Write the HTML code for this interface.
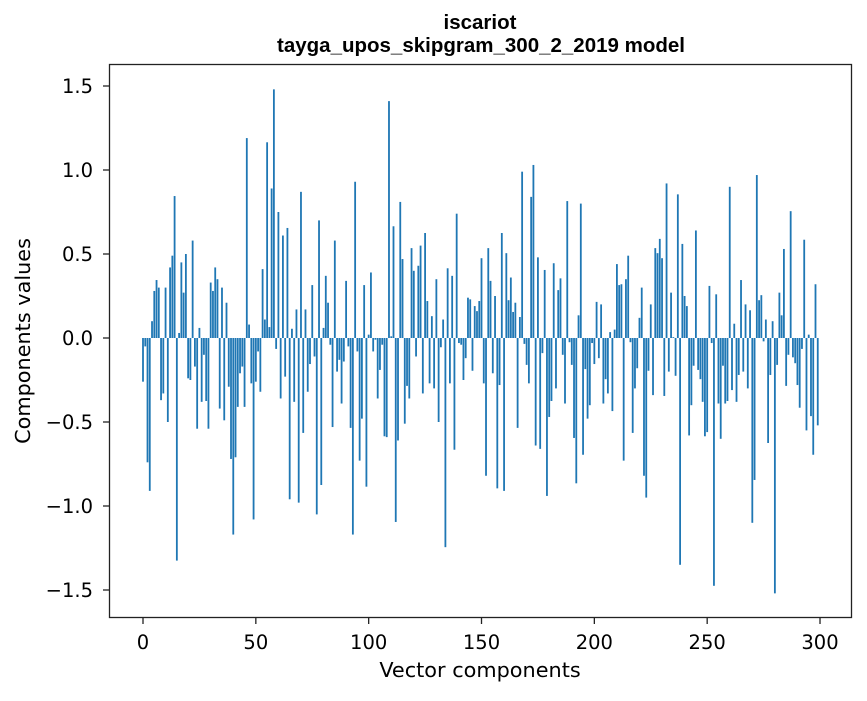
<!DOCTYPE html>
<html><head><meta charset="utf-8"><style>
body{margin:0;background:#fff;}
svg text{font-family:"DejaVu Sans","Liberation Sans",sans-serif;fill:#000;}
</style></head><body>
<svg id="chart" width="867" height="696" xmlns="http://www.w3.org/2000/svg">
<rect width="867" height="696" fill="#fff"/>
<text x="480" y="29" text-anchor="middle" font-size="20.5" font-weight="bold" style="font-family:'Liberation Sans',sans-serif">iscariot</text>
<text x="481" y="52" text-anchor="middle" font-size="20.5" font-weight="bold" style="font-family:'Liberation Sans',sans-serif">tayga_upos_skipgram_300_2_2019 model</text>
<g id="bars"></g>
<rect x="109.5" y="64.5" width="742" height="553" fill="none" stroke="#222" stroke-width="1.3"/>
<g id="xticks"></g>
<g id="yticks"></g>
<text x="480" y="677" text-anchor="middle" font-size="20.8">Vector components</text>
<text transform="translate(30,341) rotate(-90)" text-anchor="middle" font-size="20.8">Components values</text>
</svg>
<script>
const values = [-0.26,-0.05,-0.74,-0.91,0.10,0.28,0.345,0.30,-0.37,-0.33,0.30,-0.50,0.42,0.49,0.845,-1.325,0.03,0.45,0.27,0.50,
-0.24,-0.25,0.58,-0.17,-0.54,0.06,-0.38,-0.10,-0.375,-0.54,0.33,0.28,0.42,0.35,-0.42,0.30,-0.49,0.21,-0.29,-0.72,
-1.17,-0.71,-0.41,-0.21,-0.17,-0.41,1.19,0.08,-0.27,-1.08,-0.26,-0.08,-0.32,0.41,0.11,1.165,0.065,0.89,1.48,-0.065,
0.75,-0.36,0.61,-0.23,0.655,-0.96,0.055,-0.38,0.17,-0.98,0.87,-0.565,0.17,-0.32,-0.155,0.315,-0.11,-1.05,0.70,-0.875,
0.06,0.37,0.21,-0.04,-0.53,0.58,-0.20,-0.13,-0.39,-0.14,0.34,-0.05,-0.535,-1.17,0.93,-0.08,-0.73,-0.48,0.315,-0.885,
0.02,0.39,-0.08,-0.01,-0.36,-0.19,-0.04,-0.585,-0.59,1.41,0.01,0.665,-1.095,-0.61,0.81,0.47,-0.51,-0.285,-0.36,0.535,
0.40,-0.11,0.43,0.55,-0.33,0.625,0.22,-0.27,0.13,-0.30,0.35,-0.50,-0.055,0.11,-1.245,0.415,-0.27,0.37,-0.665,0.74,
-0.03,-0.04,-0.25,-0.12,0.24,0.23,-0.195,0.19,0.16,0.22,0.475,-0.27,-0.82,0.535,0.34,-0.21,0.25,-0.895,-0.28,0.625,
-0.91,0.505,0.225,0.36,0.155,0.21,-0.535,0.125,0.99,-0.035,-0.16,-0.27,0.84,1.03,-0.64,0.48,-0.66,-0.09,0.405,-0.94,
-0.47,-0.375,0.445,-0.30,0.285,0.355,-0.10,-0.39,0.815,-0.025,-0.16,-0.595,-0.865,0.135,0.80,-0.695,-0.185,-0.48,-0.40,-0.03,
-0.155,0.215,-0.12,0.20,-0.39,-0.245,-0.33,0.035,-0.435,0.05,0.44,0.315,0.32,-0.73,0.35,0.49,-0.025,-0.565,-0.30,-0.18,
0.12,0.30,-0.82,-0.95,-0.195,0.20,-0.34,0.535,0.505,0.59,0.475,-0.345,0.92,-0.20,0.27,0.005,-0.225,0.855,-1.35,0.56,
0.25,0.19,-0.58,-0.40,-0.165,0.64,-0.19,-0.245,-0.38,-0.585,-0.56,0.31,-0.03,-1.475,0.26,-0.39,-0.60,-0.165,-0.39,-0.375,
0.90,-0.31,0.085,-0.38,-0.22,0.345,-0.20,0.20,-0.30,0.165,-1.10,-0.845,0.97,0.225,0.255,-0.02,0.11,-0.625,-0.22,0.10,
-1.52,-0.16,0.27,0.135,0.53,-0.285,-0.10,0.755,-0.115,-0.15,-0.28,-0.415,-0.065,0.585,-0.55,0.02,-0.465,-0.695,0.32,-0.52];
const xTickValues = [0,50,100,150,200,250,300];
const yTickValues = [-1.5,-1.0,-0.5,0.0,0.5,1.0,1.5];
const yTickLabels = ["\u22121.5","\u22121.0","\u22120.5","0.0","0.5","1.0","1.5"];

const NS="http://www.w3.org/2000/svg";
const xScale = v => 143 + v*2.2567;
const yScale = v => 338 - v*168;
const barsG=document.getElementById('bars');
values.forEach((v,i)=>{
  const r=document.createElementNS(NS,'rect');
  const w=0.8*2.2567;
  r.setAttribute('x',xScale(i)-w/2);
  r.setAttribute('width',w);
  r.setAttribute('y',Math.min(yScale(v),yScale(0)));
  r.setAttribute('height',Math.abs(yScale(v)-yScale(0)));
  r.setAttribute('fill','#1f77b4');
  
  
  barsG.appendChild(r);
});
const xg=document.getElementById('xticks');
xTickValues.forEach(t=>{
  const x=xScale(t);
  const l=document.createElementNS(NS,'line');
  l.setAttribute('x1',x);l.setAttribute('x2',x);l.setAttribute('y1',618);l.setAttribute('y2',624);
  l.setAttribute('stroke','#222');l.setAttribute('stroke-width','1.3');
  
  
  xg.appendChild(l);
  const tx=document.createElementNS(NS,'text');
  tx.setAttribute('x',x);tx.setAttribute('y',649);tx.setAttribute('text-anchor','middle');tx.setAttribute('font-size','19.5');
  tx.textContent=String(t);
  
  
  xg.appendChild(tx);
});
const yg=document.getElementById('yticks');
yTickValues.forEach((t,i)=>{
  const y=yScale(t);
  const l=document.createElementNS(NS,'line');
  l.setAttribute('x1',103);l.setAttribute('x2',109);l.setAttribute('y1',y);l.setAttribute('y2',y);
  l.setAttribute('stroke','#222');l.setAttribute('stroke-width','1.3');
  
  
  yg.appendChild(l);
  const tx=document.createElementNS(NS,'text');
  tx.setAttribute('x',93);tx.setAttribute('y',y+7);tx.setAttribute('text-anchor','end');tx.setAttribute('font-size','19.5');
  tx.textContent=yTickLabels[i];
  
  
  yg.appendChild(tx);
});
</script>
</body></html>
